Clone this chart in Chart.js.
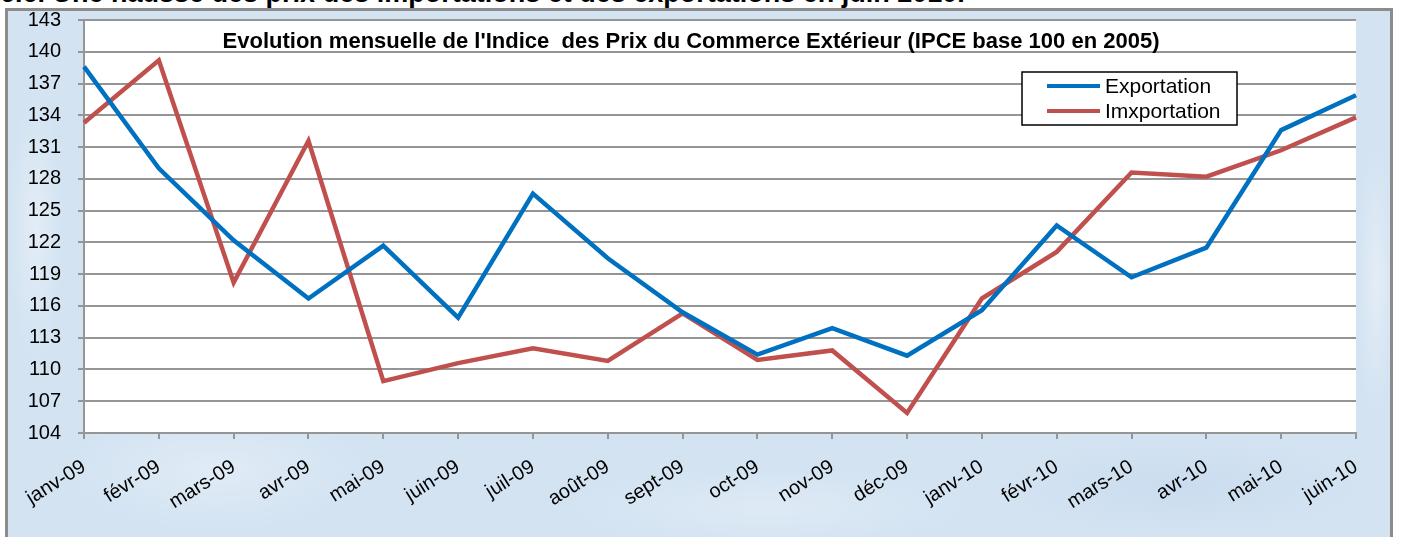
<!DOCTYPE html>
<html>
<head>
<meta charset="utf-8">
<script src="https://cdn.jsdelivr.net/npm/chart.js@4/dist/chart.umd.min.js"></script>
<style>
  html, body { margin: 0; padding: 0; width: 1401px; height: 537px; overflow: hidden; background: #fff; }
  #heading {
    position: absolute; left: 0; top: -20px; white-space: nowrap; color: #000;
    font: bold 27px "Liberation Sans", Arial, sans-serif; line-height: 27px;
  }
  #frame {
    position: absolute; left: 5px; top: 8px; width: 1382px; height: 540px;
    border: 3px solid #8c8c8c;
    background-color: #d3e3f2;
    background-image:
      radial-gradient(ellipse 220px 90px at 15% 85%, rgba(255,255,255,0.3), rgba(255,255,255,0) 70%),
      radial-gradient(ellipse 300px 60px at 55% 92%, rgba(255,255,255,0.25), rgba(255,255,255,0) 70%),
      radial-gradient(ellipse 40px 200px at 2% 40%, rgba(255,255,255,0.35), rgba(255,255,255,0) 70%),
      radial-gradient(ellipse 30px 200px at 99% 50%, rgba(255,255,255,0.35), rgba(255,255,255,0) 70%),
      radial-gradient(ellipse 260px 70px at 85% 88%, rgba(190,210,235,0.4), rgba(190,210,235,0) 70%);
  }
  #wrap { position: absolute; left: 0; top: 0; width: 1401px; height: 537px; }
</style>
</head>
<body>
<div id="heading">6.6. Une hausse des prix des importations et des exportations en juin 2010.</div>
<div id="frame"></div>
<div id="wrap"><canvas id="ipceChart" width="1401" height="537"></canvas></div>
<script>
// Categories and series
const months = ['janv-09', 'févr-09', 'mars-09', 'avr-09', 'mai-09', 'juin-09', 'juil-09', 'août-09', 'sept-09',
  'oct-09', 'nov-09', 'déc-09', 'janv-10', 'févr-10', 'mars-10', 'avr-10', 'mai-10', 'juin-10'];
const exportation = [138.6, 129.0, 122.2, 116.7, 121.7, 114.9, 126.6, 120.5, 115.4,
  111.4, 113.9, 111.3, 115.6, 123.6, 118.7, 121.5, 132.6, 135.9];
const importation = [133.3, 139.2, 118.2, 131.6, 108.9, 110.6, 112.0, 110.8, 115.3,
  110.9, 111.8, 105.9, 116.7, 121.1, 128.6, 128.2, 130.7, 133.8];
const yMin = 104, yMax = 143, yStep = 3;

const titleText = "Evolution mensuelle de l'Indice  des Prix du Commerce Extérieur (IPCE base 100 en 2005)";
const FONT = '"Liberation Sans", Arial, sans-serif';
const gridGray = '#959595';

// white plot area + title + boxed legend inside the plot
const plotDecor = {
  id: 'plotDecor',
  beforeDraw(chart) {
    const { ctx, chartArea: a } = chart;
    ctx.save();
    ctx.fillStyle = '#fff';
    ctx.fillRect(a.left, a.top, a.right - a.left, a.bottom - a.top);
    ctx.restore();
  },
  afterDraw(chart) {
    const { ctx, chartArea: a } = chart;
    ctx.save();
    // title
    ctx.fillStyle = '#000';
    ctx.font = 'bold 22px ' + FONT;
    ctx.textAlign = 'center';
    ctx.textBaseline = 'middle';
    ctx.fillText(titleText, 691, a.top + 22);

    // legend
    const bx = a.right - 334, by = a.top + 52, bw = 215, bh = 53;
    ctx.fillStyle = '#fff';
    ctx.fillRect(bx, by, bw, bh);
    ctx.strokeStyle = '#000';
    ctx.lineWidth = 1.5;
    ctx.strokeRect(bx, by, bw, bh);
    ctx.font = '21px ' + FONT;
    ctx.textAlign = 'left';
    chart.data.datasets.forEach((ds, i) => {
      const y = by + 14 + i * 25;
      ctx.strokeStyle = ds.borderColor;
      ctx.lineWidth = 4;
      ctx.beginPath();
      ctx.moveTo(bx + 25, y);
      ctx.lineTo(bx + 78, y);
      ctx.stroke();
      ctx.fillStyle = '#000';
      ctx.fillText(ds.label, bx + 83, y + 1);
    });
    ctx.restore();
  }
};

new Chart(document.getElementById('ipceChart'), {
  type: 'line',
  data: {
    labels: months,
    datasets: [
      {
        label: 'Exportation',
        data: exportation,
        borderColor: '#0070c0',
        borderWidth: 4.5,
        pointRadius: 0,
        tension: 0
      },
      {
        label: 'Imxportation',
        data: importation,
        borderColor: '#c0504d',
        borderWidth: 4.5,
        pointRadius: 0,
        tension: 0
      }
    ]
  },
  options: {
    responsive: false,
    animation: false,
    layout: { padding: { top: 20, right: 45, left: 0, bottom: 0 } },
    plugins: {
      legend: { display: false },
      tooltip: { enabled: false }
    },
    scales: {
      x: {
        offset: false,
        grid: { drawOnChartArea: false, drawTicks: true, tickLength: 6, color: gridGray, lineWidth: 2 },
        border: { color: gridGray, width: 2 },
        ticks: {
          color: '#000',
          font: { family: FONT, size: 20 },
          minRotation: 32,
          maxRotation: 32,
          autoSkip: false,
          padding: 16
        },
        afterFit: (scale) => { scale.height = 104; }
      },
      y: {
        min: yMin,
        max: yMax,
        grid: { color: gridGray, lineWidth: 2, tickLength: 6 },
        border: { color: gridGray, width: 2 },
        ticks: {
          stepSize: yStep,
          color: '#000',
          font: { family: FONT, size: 20 },
          padding: 17
        },
        // plot area must start at y=20, so drop the auto label padding
        afterFit: (scale) => {
          scale.width = 84;
          scale.paddingTop = 0;
          scale.paddingBottom = 0;
        }
      }
    }
  },
  plugins: [plotDecor]
});
</script>
</body>
</html>
